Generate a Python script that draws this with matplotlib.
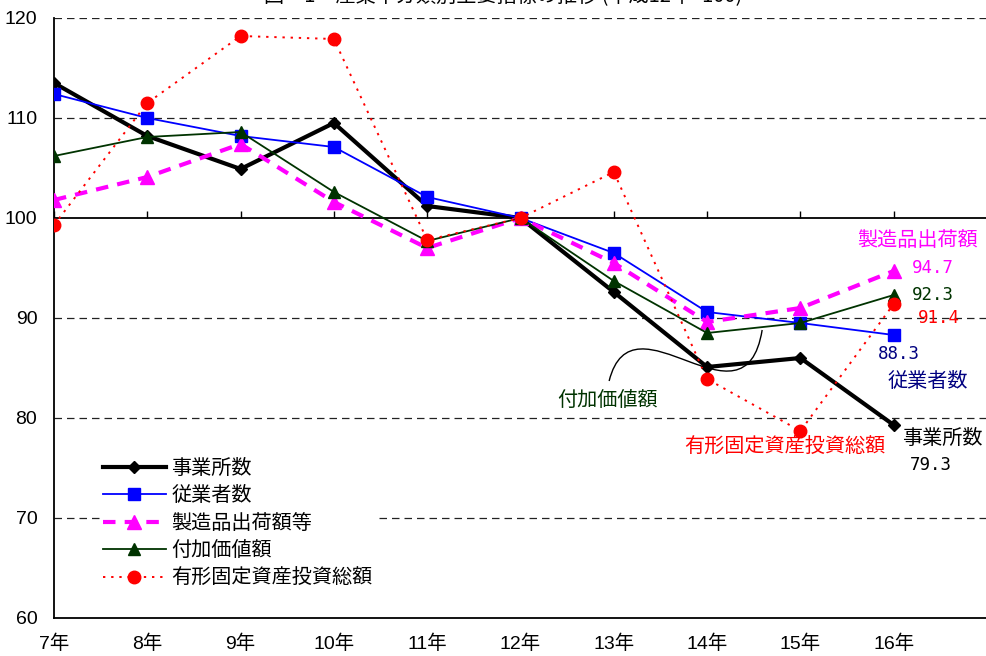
import matplotlib
matplotlib.use('Agg')
import matplotlib.pyplot as plt
from matplotlib.path import Path
from matplotlib.patches import PathPatch

years = ['7年', '8年', '9年', '10年', '11年', '12年', '13年', '14年', '15年', '16年']
jigyosho = [113.5, 108.2, 104.9, 109.5, 101.2, 100.0, 92.6, 85.1, 86.0, 79.3]
jugyosha = [112.4, 110.0, 108.2, 107.1, 102.1, 100.0, 96.5, 90.6, 89.5, 88.3]
shukka = [101.8, 104.1, 107.4, 101.6, 97.0, 100.0, 95.5, 89.6, 91.0, 94.7]
fuka = [106.2, 108.1, 108.6, 102.6, 97.7, 100.0, 93.7, 88.5, 89.5, 92.3]
toushi = [99.3, 111.5, 118.2, 117.9, 97.8, 100.0, 104.6, 83.9, 78.7, 91.4]
names = ['事業所数', '従業者数', '製造品出荷額等', '付加価値額', '有形固定資産投資総額']
yticks = [60, 70, 80, 90, 100, 110, 120]

plt.rcParams['font.family'] = ['Liberation Sans', 'Noto Sans CJK JP', 'DejaVu Sans']
JP = ['Noto Sans CJK JP', 'DejaVu Sans']
MONO = ['DejaVu Sans Mono']

fig = plt.figure(figsize=(9.87, 6.56), dpi=100)
ax = fig.add_axes([54 / 987, 38 / 656, 933 / 987, 600 / 656])
x = list(range(len(years)))

ax.set_xlim(0, 10)
ax.set_ylim(60, 120)

# gridlines
for v in yticks:
    if v in (60, 100):
        continue
    ax.axhline(v, color='#222222', lw=0.9, ls=(0, (6, 4)), zorder=1)
ax.axhline(100, color='black', lw=1.3, zorder=1)

l1, = ax.plot(x, jigyosho, color='black', lw=3, marker='D', ms=6.5, label=names[0], zorder=3)
l2, = ax.plot(x, jugyosha, color='#0000FF', lw=1.3, marker='s', ms=8, label=names[1], zorder=4)
l3, = ax.plot(x, shukka, color='#FF00FF', lw=3, ls=(0, (3, 2.2)), marker='^', ms=9.5, label=names[2], zorder=5)
l4, = ax.plot(x, fuka, color='#003300', lw=1.3, marker='^', ms=8.5, label=names[3], zorder=6)
l5, = ax.plot(x, toushi, color='#FF0000', lw=1.4, ls=(0, (1.2, 3)), marker='o', ms=9, label=names[4], zorder=7)

# spines / ticks
ax.spines['right'].set_visible(False)
ax.spines['top'].set_position(('data', 100))
ax.spines['top'].set_visible(False)
ax.spines['left'].set_linewidth(1.3)
ax.spines['bottom'].set_linewidth(1.3)
ax.set_xticks(x)
ax.set_xticklabels(years)
ax.tick_params(axis='x', top=True, bottom=False, labeltop=False, labelbottom=True,
               direction='out', length=5, width=1, labelsize=14, pad=7)
ax.set_yticks(yticks)
ax.tick_params(axis='y', length=0, labelsize=14, pad=12)

leg = ax.legend(handles=[l1, l2, l3, l4, l5], loc='upper left', bbox_to_anchor=(0.049, 0.272),
                prop={'family': JP, 'size': 14.5}, frameon=True, facecolor='white',
                edgecolor='none', framealpha=1, handlelength=3.15, handletextpad=0.25,
                labelspacing=0.32, borderpad=0.15, borderaxespad=0)
leg.set_zorder(10)

# annotations
ax.text(9.9, 97.8, '製造品出荷額', color='#FF00FF', family=JP, fontsize=14.5, ha='right', va='center')
ax.text(9.2, 95.0, '94.7', color='#FF00FF', family=MONO, fontsize=12.5, ha='left', va='center')
ax.text(9.2, 92.3, '92.3', color='#003300', family=MONO, fontsize=12.5, ha='left', va='center')
ax.text(9.26, 90.0, '91.4', color='#FF0000', family=MONO, fontsize=12.5, ha='left', va='center')
ax.text(8.83, 86.4, '88.3', color='#000080', family=MONO, fontsize=12.5, ha='left', va='center')
ax.text(8.93, 83.7, '従業者数', color='#000080', family=JP, fontsize=14.5, ha='left', va='center')
ax.text(5.93, 81.7, '付加価値額', color='#003300', family=JP, fontsize=14.5, ha='center', va='center')
ax.text(7.83, 77.1, '有形固定資産投資総額', color='#FF0000', family=JP, fontsize=14.5, ha='center', va='center')
ax.text(9.09, 78.0, '事業所数', color='black', family=JP, fontsize=14.5, ha='left', va='center')
ax.text(9.17, 75.3, '79.3', color='black', family=MONO, fontsize=12.5, ha='left', va='center')

curve = Path([(5.95, 83.7), (6.2, 93.0), (7.4, 78.0), (7.59, 88.8)],
             [Path.MOVETO, Path.CURVE4, Path.CURVE4, Path.CURVE4])
ax.add_patch(PathPatch(curve, fill=False, color='black', lw=1.0, zorder=8))

fig.text(0.51, 1 - 1 / 656, '図－1　産業中分類別主要指標の推移 (平成12年=100)', family=JP,
         fontsize=14.5, ha='center', va='baseline', color='black')

fig.savefig('out.png', dpi=100)
